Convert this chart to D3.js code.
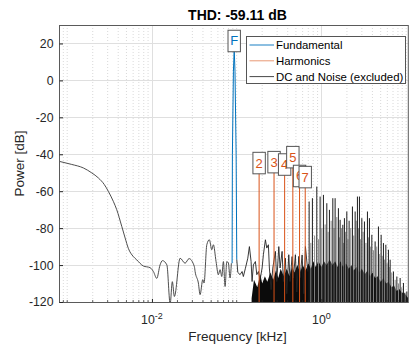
<!DOCTYPE html>
<html><head><meta charset="utf-8">
<script src="https://cdn.jsdelivr.net/npm/d3@7"></script>
<style>body{margin:0;background:#fff}svg{display:block;font-family:"Liberation Sans",Arial,Helvetica,sans-serif}</style>
</head><body><svg id="c" width="409" height="349"></svg>
<script>
// ---------------- data ----------------
const titleText = "THD: -59.11 dB";
const xLabelText = "Frequency [kHz]";
const yLabelText = "Power [dB]";
const xDomain = [0.0008, 10.6];
const yDomain = [-120, 30];
const yTicks = [-120, -100, -80, -60, -40, -20, 0, 20];
const xTickExps = [-2, 0];
const legendLabels = ["Fundamental", "Harmonics", "DC and Noise (excluded)"];

const fundLabel = "F";
const fundFreq = 0.0935;
const fundPeak = 16.6;
const fundamentalBand = [[0.0883,-99],[0.0890,-40],[0.0915,5],[0.0935,16.6],[0.0955,5],[0.0985,-40],[0.1002,-97]];

const harmonicOrders = ["2","3","4","5","6","7"];
const harmonicFreqs = [0.184, 0.276, 0.368, 0.46, 0.552, 0.644];
const harmonicPeaks = [-49.5, -49.0, -50.3, -46.3, -56.5, -57.1];

const noiseLow = [[0.0008,-43.8],[0.00113,-45.5],[0.00155,-47.4],[0.00195,-50.1],[0.00233,-52.8],[0.00274,-56.4],
  [0.00306,-60.1],[0.0035,-65.5],[0.00384,-70],[0.0044,-79],[0.00483,-85.4],[0.00526,-90.9],[0.00603,-95.4],
  [0.00662,-97.2],[0.00791,-100.5],[0.0095,-101.4],[0.0104,-103.5],[0.0114,-107.2],[0.01247,-99.9],[0.0133,-97.6],
  [0.015,-99.9],[0.0164,-121],[0.0174,-109],[0.0184,-117],[0.0215,-96.3],[0.0246,-99],[0.0274,-96.5],[0.0317,-100.9],
  [0.0323,-103.5],[0.0353,-109.7],[0.037,-116],[0.0398,-107.9],[0.0412,-109.7],[0.0444,-89],[0.0476,-86.3],
  [0.0508,-91.7],[0.0531,-89],[0.0571,-98.1],[0.0608,-105.2],[0.0637,-102.5],[0.0667,-106.2],[0.0697,-98.1],
  [0.073,-111.6],[0.0764,-98.1],[0.0798,-98.9],[0.0836,-107],[0.0865,-99]];

const noiseMid = [[0.1002,-97],[0.1031,-104],[0.1097,-105.2],[0.1158,-103.5],[0.1199,-106.2],[0.1268,-101.7],
  [0.1352,-96.3],[0.1413,-90],[0.1479,-98.1],[0.152,-108.9],[0.1574,-99.9],[0.1663,-98.1],[0.1727,-105.2],
  [0.1804,-103.5],[0.1889,-107.9],[0.1995,-101.6],[0.2066,-94.4],[0.2183,-86.3],[0.2266,-90.8],[0.2366,-89],
  [0.2432,-101.6],[0.2547,-113.3],[0.2668,-101.6],[0.2864,-92.6],[0.2973,-108.9],[0.3141,-90],[0.3253,-101.6],
  [0.3435,-92.6],[0.3557,-108.9],[0.3757,-96.3],[0.39,-115.5],[0.412,-94.4],[0.4267,-108.9],[0.4508,-95.4],
  [0.4667,-107],[0.4931,-94.4],[0.5124,-114.6],[0.541,-95.3],[0.561,-106.8],[0.5918,-94.5],[0.6196,-115.5],
  [0.6475,-90],[0.6908,-103.5]];

const noiseFloorTop = [[0.15,-118],[0.16,-108],[0.175,-112],[0.19,-105],[0.2,-110],[0.215,-106],[0.23,-109],
  [0.25,-104],[0.27,-108],[0.29,-103],[0.31,-107],[0.33,-102],[0.36,-106],[0.39,-102],[0.42,-106],[0.45,-101],
  [0.48,-104],[0.52,-100],[0.56,-104],[0.6,-100],[0.65,-103],[0.7,-99],[0.75,-102],[0.8,-98],[0.86,-101],
  [0.92,-98],[1.0,-101],[1.07,-98],[1.15,-100],[1.25,-97],[1.35,-100],[1.45,-98],[1.56,-101],[1.68,-98],
  [1.8,-101],[1.95,-99],[2.1,-102],[2.25,-100],[2.4,-103],[2.6,-101],[2.8,-104],[3.0,-102],[3.25,-105],
  [3.5,-103],[3.75,-106],[4.0,-104],[4.3,-107],[4.6,-106],[5.0,-109],[5.4,-107],[5.8,-110],[6.2,-109],
  [6.7,-112],[7.2,-111],[7.7,-114],[8.3,-113],[8.9,-115],[9.5,-115],[10.2,-117],[10.6,-118]];

const tallSpikes = [[0.716,-65.6],[0.783,-63.8],[0.882,-57.5],[0.965,-62.9],[1.056,-62.0],[1.158,-66.5],
  [1.243,-70.1],[1.363,-63.8],[1.451,-63.8],[1.587,-69.2],[1.663,-75.5],[1.789,-78.2],[1.869,-74.6],
  [1.994,-71],[2.123,-76],[2.323,-68.3],[2.5,-71],[2.661,-62.9],[2.81,-62.9],[2.999,-74.6],[3.219,-76.4],
  [3.492,-71],[3.687,-74.6],[3.936,-83.6],[4.305,-87.2],[4.71,-79.1],[5.069,-83.6],[5.395,-88.1],
  [5.758,-89],[6.18,-91.7],[6.474,-97.1],[7.08,-103.5],[7.766,-106.2],[8.492,-107],[9.29,-109.7],[10.19,-114.3]];

const minorSpikes = [[0.75,-88],[0.831,-84],[0.922,-86],[1.011,-80],[1.106,-78],[1.2,-82],[1.302,-76],
  [1.409,-80],[1.519,-74],[1.627,-85],[1.722,-80],[1.829,-88],[1.931,-82],[2.055,-86],[2.218,-80],
  [2.406,-84],[2.576,-76],[2.734,-80],[2.903,-86],[3.108,-82],[3.353,-88],[3.588,-85],[3.81,-90],
  [4.111,-92],[4.497,-90],[4.879,-94],[5.223,-95],[5.574,-97],[5.967,-99],[6.317,-101],[6.761,-104],
  [7.416,-108],[8.111,-110],[8.872,-112],[9.732,-115]];

// ---------------- styles ----------------
const BLUE = "#0072BD", ORANGE = "#D95319", AXC = "#262626";

// ---------------- chart ----------------
const svg = d3.select("#c");
const m = {l: 59, r: 408.3, t: 25, b: 302};
const x = d3.scaleLog().domain(xDomain).range([m.l, m.r]);
const y = d3.scaleLinear().domain(yDomain).range([m.b, m.t]);

svg.append("defs").append("clipPath").attr("id", "clip")
  .append("rect").attr("x", m.l).attr("y", m.t).attr("width", m.r - m.l).attr("height", m.b - m.t);

// grid
const minorX = [];
for (let e = -4; e <= 1; e++) for (let k = 1; k <= 9; k++) {
  const v = k * Math.pow(10, e);
  if (v > xDomain[0] && v < xDomain[1] && !(k === 1 && xTickExps.includes(e))) minorX.push(v);
}
const grid = svg.append("g");
grid.selectAll(".mx").data(minorX).join("line")
  .attr("x1", d => x(d)).attr("x2", d => x(d)).attr("y1", m.t).attr("y2", m.b)
  .attr("stroke", "#cfcfcf").attr("stroke-width", 0.8).attr("stroke-dasharray", "1,2");
grid.selectAll(".Mx").data(xTickExps.map(e => Math.pow(10, e))).join("line")
  .attr("x1", d => Math.round(x(d)) + 0.5).attr("x2", d => Math.round(x(d)) + 0.5).attr("y1", m.t).attr("y2", m.b)
  .attr("stroke", "#dfdfdf").attr("stroke-width", 1);
grid.selectAll(".My").data(yTicks).join("line")
  .attr("x1", m.l).attr("x2", m.r).attr("y1", d => Math.round(y(d)) + 0.5).attr("y2", d => Math.round(y(d)) + 0.5)
  .attr("stroke", "#dfdfdf").attr("stroke-width", 1);

const plot = svg.append("g").attr("clip-path", "url(#clip)");

// noise floor (dense part)
plot.append("path").datum(noiseFloorTop)
  .attr("d", d3.area().x(d => x(d[0])).y0(y(-125)).y1(d => y(d[1])))
  .attr("fill", "#0b0b0b");

// noise traces
plot.append("path").datum(noiseLow)
  .attr("d", d3.line().x(d => x(d[0])).y(d => y(d[1])).curve(d3.curveMonotoneX))
  .attr("fill", "none").attr("stroke", "#3a3a3a").attr("stroke-width", 0.9);
plot.append("path").datum(noiseMid)
  .attr("d", d3.line().x(d => x(d[0])).y(d => y(d[1])))
  .attr("fill", "none").attr("stroke", "#222").attr("stroke-width", 0.9);

// spikes
plot.selectAll(".ms").data(minorSpikes).join("line")
  .attr("x1", d => x(d[0])).attr("x2", d => x(d[0])).attr("y1", y(-120)).attr("y2", d => y(d[1]))
  .attr("stroke", "#8a8a8a").attr("stroke-width", 1);
plot.selectAll(".ts").data(tallSpikes).join("line")
  .attr("x1", d => x(d[0])).attr("x2", d => x(d[0])).attr("y1", y(-120)).attr("y2", d => y(d[1]))
  .attr("stroke", "#1e1e1e").attr("stroke-width", 1);

// harmonics
plot.selectAll(".hl").data(harmonicFreqs).join("line")
  .attr("x1", d => x(d)).attr("x2", d => x(d)).attr("y1", y(-120)).attr("y2", (d, i) => y(harmonicPeaks[i]))
  .attr("stroke", ORANGE).attr("stroke-width", 1);

// fundamental
plot.append("path").datum(fundamentalBand)
  .attr("d", d3.line().x(d => x(d[0])).y(d => y(d[1])))
  .attr("fill", "none").attr("stroke", BLUE).attr("stroke-width", 1);

// axes
const ax = svg.append("g");
ax.append("rect").attr("x", m.l + 0.5).attr("y", m.t + 0.5).attr("width", m.r - m.l - 0.5).attr("height", m.b - m.t)
  .attr("fill", "none").attr("stroke", "#5a5a5a").attr("stroke-width", 1);
const yAxis = ax.append("g").attr("transform", `translate(${m.l + 0.5},0)`)
  .call(d3.axisLeft(y).tickValues(yTicks).tickSize(-3.5).tickSizeOuter(0).tickPadding(6).tickFormat(d => String(d)));
yAxis.select(".domain").remove();
yAxis.selectAll("line").attr("stroke", AXC);
yAxis.selectAll("text").attr("fill", AXC).style("font-size", "12.3px").style("font-family", "Liberation Sans, Arial, sans-serif");

const xAxis = ax.append("g").attr("transform", `translate(0,${m.b + 0.5})`)
  .call(d3.axisBottom(x).tickValues(xTickExps.map(e => Math.pow(10, e))).tickSize(-3.5).tickSizeOuter(0).tickFormat(""));
xAxis.select(".domain").remove();
xAxis.selectAll("line").attr("stroke", AXC);
ax.selectAll(".mt").data(minorX).join("line")
  .attr("x1", d => x(d)).attr("x2", d => x(d)).attr("y1", m.b).attr("y2", m.b - 2)
  .attr("stroke", AXC).attr("stroke-width", 0.7);

xTickExps.forEach(e => {
  const t = ax.append("text").attr("x", x(Math.pow(10, e))).attr("y", 324)
    .attr("text-anchor", "middle").attr("fill", AXC).style("font-size", "12.3px");
  t.append("tspan").text("10");
  t.append("tspan").text(String(e)).attr("dy", "-5").style("font-size", "9px");
});

// labels
svg.append("text").attr("x", 237.5).attr("y", 19.5).attr("text-anchor", "middle")
  .style("font-weight", "bold").style("font-size", "14px").attr("fill", "#000").text(titleText);
svg.append("text").attr("x", 237.5).attr("y", 341).attr("text-anchor", "middle")
  .style("font-size", "13.5px").attr("fill", AXC).text(xLabelText);
svg.append("text").attr("transform", "translate(19.5,163.5) rotate(-90)").attr("text-anchor", "middle")
  .attr("dominant-baseline", "central").style("font-size", "13.5px").attr("fill", AXC).text(yLabelText);

// peak label boxes
const labels = [{t: fundLabel, f: fundFreq, p: fundPeak, c: BLUE}]
  .concat(harmonicOrders.map((o, i) => ({t: o, f: harmonicFreqs[i], p: harmonicPeaks[i], c: ORANGE})));
labels.forEach(L => {
  const cx = x(L.f), bot = y(L.p) + 2, h = 21.5, w = 12.4;
  svg.append("rect").attr("x", cx - w / 2).attr("y", bot - h).attr("width", w).attr("height", h)
    .attr("fill", "#fff").attr("stroke", "#555").attr("stroke-width", 1);
  svg.append("text").attr("x", cx).attr("y", bot - h / 2).attr("text-anchor", "middle")
    .attr("dominant-baseline", "central").style("font-size", "13px").attr("fill", L.c).text(L.t);
});

// legend
const lg = svg.append("g");
lg.append("rect").attr("x", 246.5).attr("y", 36.5).attr("width", 159).attr("height", 47)
  .attr("fill", "#fff").attr("stroke", "#555").attr("stroke-width", 1);
const legColors = [BLUE, ORANGE, "#333"];
const legOp = [0.9, 0.6, 0.9];
legendLabels.forEach((s, i) => {
  const yy = 45 + i * 15.8;
  lg.append("line").attr("x1", 249.5).attr("x2", 274).attr("y1", yy).attr("y2", yy)
    .attr("stroke", legColors[i]).attr("stroke-opacity", legOp[i]).attr("stroke-width", 1);
  lg.append("text").attr("x", 276).attr("y", yy).attr("dominant-baseline", "central")
    .style("font-size", "11.4px").attr("fill", "#000").text(s);
});
</script></body></html>
